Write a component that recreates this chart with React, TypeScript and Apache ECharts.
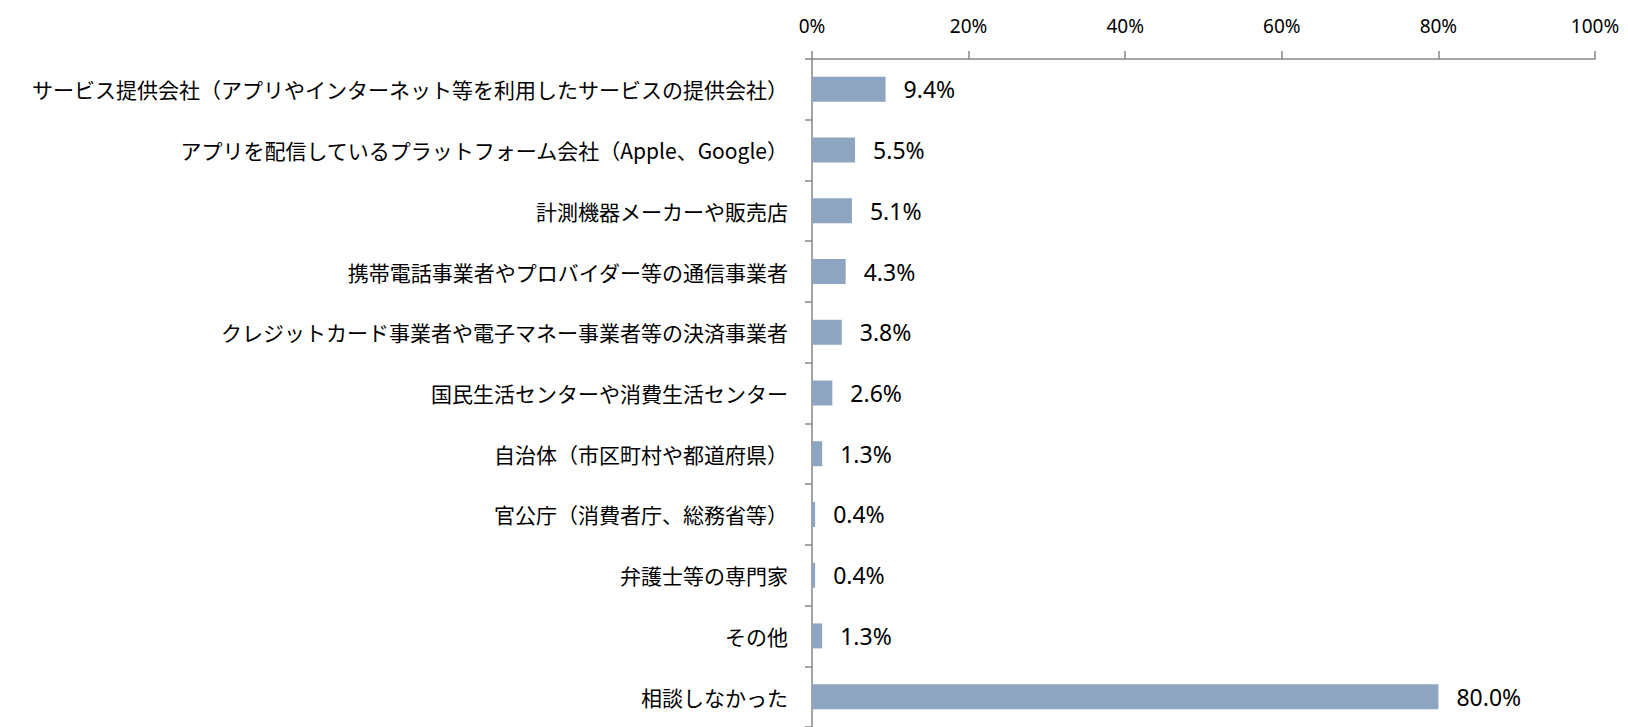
import React, { useEffect, useRef } from "react";
import * as echarts from "echarts";

const categories: string[] = [
  "サービス提供会社（アプリやインターネット等を利用したサービスの提供会社）",
  "アプリを配信しているプラットフォーム会社（Apple、Google）",
  "計測機器メーカーや販売店",
  "携帯電話事業者やプロバイダー等の通信事業者",
  "クレジットカード事業者や電子マネー事業者等の決済事業者",
  "国民生活センターや消費生活センター",
  "自治体（市区町村や都道府県）",
  "官公庁（消費者庁、総務省等）",
  "弁護士等の専門家",
  "その他",
  "相談しなかった",
];

const values: number[] = [9.4, 5.5, 5.1, 4.3, 3.8, 2.6, 1.3, 0.4, 0.4, 1.3, 80.0];

const axisMin = 0;
const axisMax = 100;
const axisInterval = 20;

export default function App() {
  const ref = useRef<HTMLDivElement>(null);

  useEffect(() => {
    if (!ref.current) return;
    const chart = echarts.init(ref.current, undefined, { renderer: "svg" });
    chart.setOption({
      animation: false,
      backgroundColor: "#ffffff",
      grid: { left: 812, right: 33, top: 59, bottom: -3, containLabel: false },
      xAxis: {
        type: "value",
        position: "top",
        min: axisMin,
        max: axisMax,
        interval: axisInterval,
        axisLine: { show: true, lineStyle: { color: "#868686", width: 1.5 } },
        axisTick: { show: true, inside: false, length: 8, lineStyle: { color: "#868686", width: 1.5 } },
        splitLine: { show: false },
        axisLabel: {
          formatter: "{value}%",
          color: "#000",
          fontFamily: "Noto Sans",
          fontSize: 19,
          margin: 24,
        },
      },
      yAxis: {
        type: "category",
        data: categories,
        inverse: true,
        axisLine: { show: true, lineStyle: { color: "#868686", width: 1.5 } },
        axisTick: { show: true, inside: false, length: 7, lineStyle: { color: "#868686", width: 1.5 } },
        axisLabel: {
          color: "#000",
          fontFamily: "Noto Sans CJK JP",
          fontSize: 21,
          margin: 24,
        },
        splitLine: { show: false },
      },
      series: [
        {
          type: "bar",
          data: values,
          barWidth: 25,
          itemStyle: { color: "#8EA5C1" },
          label: {
            show: true,
            position: "right",
            distance: 18,
            color: "#000",
            fontFamily: "Noto Sans",
            fontSize: 23,
            formatter: (p: any) => `${Number(p.value).toFixed(1)}%`,
          },
        },
      ],
    });
    return () => chart.dispose();
  }, []);

  return (
    <div
      ref={ref}
      style={{ position: "absolute", left: 0, top: 0, width: 1628, height: 727 }}
    />
  );
}
